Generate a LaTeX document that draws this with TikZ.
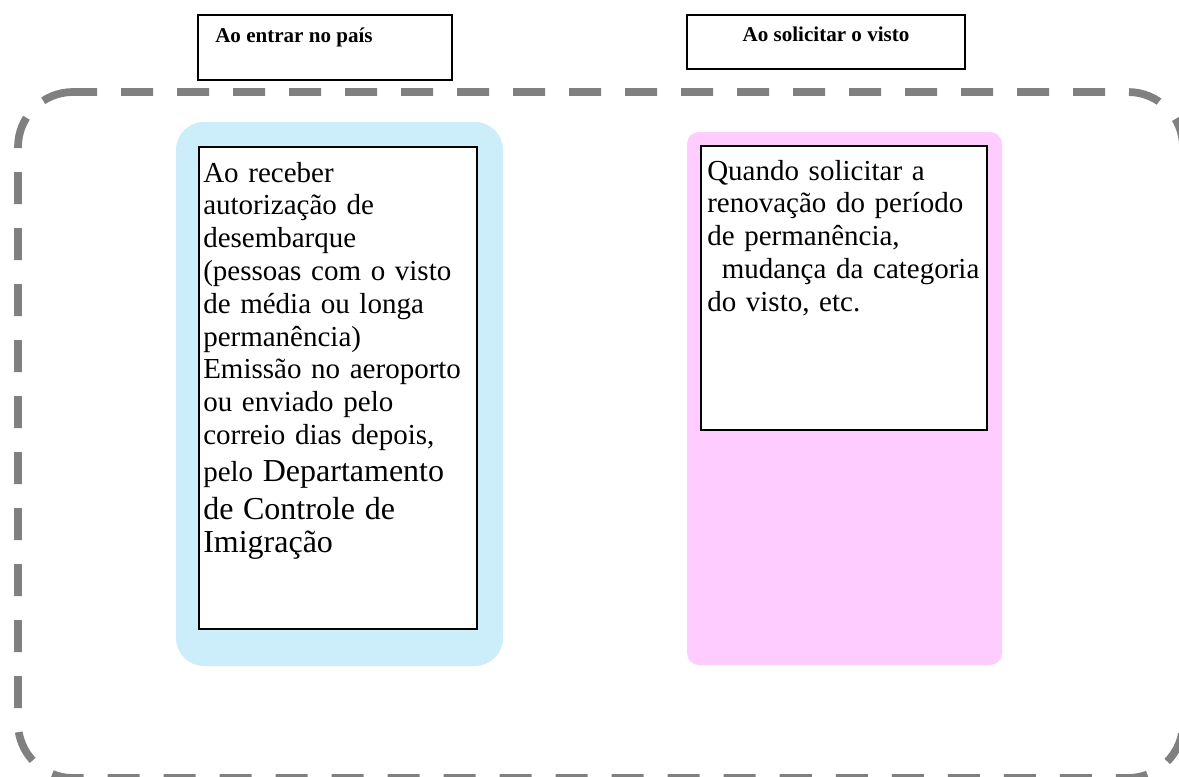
\documentclass[tikz,border=0pt]{standalone}
\usepackage{fontspec}
\setmainfont{Liberation Serif}
\definecolor{framegray}{RGB}{128,128,128}
\definecolor{lblue}{RGB}{204,238,250}
\definecolor{lpink}{RGB}{255,204,255}
\tikzset{
  panel/.style={line width=1.5pt, draw=black, fill=white},
  tag/.style={font=\bfseries\fontsize{15.8pt}{18pt}\selectfont, inner sep=0pt},
  body/.style={font=\fontsize{21.75pt}{24.6pt}\selectfont, inner sep=0pt, text width=250pt, align=left, anchor=base west},
  outerframe/.style={draw=framegray, line width=5.8pt, dash pattern=on 24pt off 18pt, dash phase=6pt},
}
\newcommand{\bigtxt}{\fontsize{24pt}{28.1pt}\selectfont}
\begin{document}
\begin{tikzpicture}[x=0.75pt,y=-0.75pt]
\useasboundingbox (0,0) rectangle (1179,776);
\clip (0,0) rectangle (1179,776);
\fill[white] (0,0) rectangle (1179,776);
% header tags
\draw[panel] (198,15) rectangle (452,80);
\node[tag, anchor=base west] (tagA) at (215,42) {Ao entrar no país};
\draw[panel] (687,15) rectangle (965,69);
\node[tag, anchor=base] (tagB) at (826,41) {Ao solicitar o visto};
% dashed frame
\draw[outerframe] (73,92) -- (1128,92)
  arc[start angle=-90, end angle=0, radius=55] -- (1183,723)
  arc[start angle=0, end angle=90, radius=55] -- (73,778)
  arc[start angle=90, end angle=180, radius=55] -- (18,147)
  arc[start angle=180, end angle=270, radius=55];
% left panel
\fill[lblue, rounded corners=21pt] (176,122) rectangle (503,666);
\draw[panel] (199,147) rectangle (477,629);
\node[body] (textA) at (203,182) {%
Ao receber\par
autorização de\par
desembarque\par
(pessoas com o visto\par
de média ou longa\par
permanência)\par
Emissão no aeroporto\par
ou enviado pelo\par
correio dias depois,\par
{pelo \bigtxt Departamento\par}
\bigtxt de Controle de\par
Imigração};
% right panel
\fill[lpink, rounded corners=9pt] (687,132) rectangle (1002,665);
\draw[panel] (701,146) rectangle (987,430);
\node[body] (textB) at (707,180) {%
Quando solicitar a\par
renovação do período\par
de permanência,\par
\hspace*{0.5em}mudança da categoria\par
do visto, etc.};
\end{tikzpicture}
\end{document}
